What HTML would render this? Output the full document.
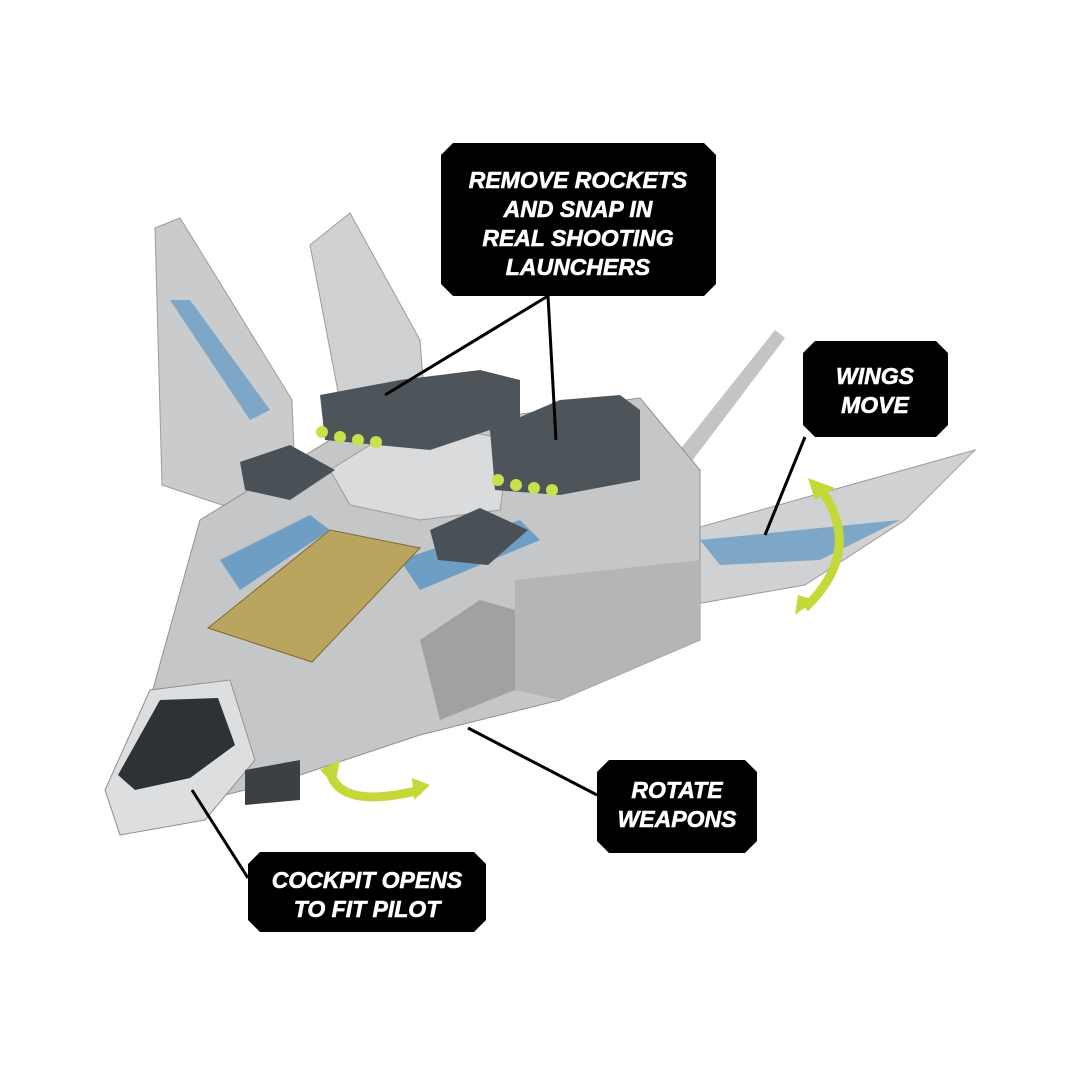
<!DOCTYPE html>
<html><head><meta charset="utf-8"><style>
html,body{margin:0;padding:0;background:#fff;width:1080px;height:1080px;overflow:hidden}
svg{display:block}
text{font-family:"Liberation Sans",sans-serif;font-weight:bold;font-style:italic;fill:#fff;stroke:#fff;stroke-width:0.6;font-size:23px;text-anchor:middle}
</style></head><body>
<svg width="1080" height="1080" viewBox="0 0 1080 1080">
<polygon points="155,228 180,218 292,400 296,505 222,505 162,485" fill="#c9cbcd" stroke="#9a9c9e"/>
<polygon points="170,300 190,300 270,410 250,420" fill="#7ea6c6"/>
<polygon points="310,245 350,213 420,340 424,392 340,402" fill="#cfd1d3" stroke="#9a9c9e"/>
<polygon points="600,555 975,450 905,520 805,585 650,612" fill="#cfd1d3" stroke="#9a9c9e"/>
<polygon points="700,540 900,520 820,560 720,565" fill="#7ea6c6"/>
<polygon points="640,500 775,330 785,338 655,510" fill="#c2c4c6"/>
<polygon points="400,720 460,640 470,648 410,728" fill="#c2c4c6"/>
<rect x="348" y="733" width="25" height="10" fill="#d5d7d9" transform="rotate(-50 360 738)"/>
<polygon points="200,520 330,440 640,398 700,470 700,640 560,700 420,735 285,780 205,800 150,700" fill="#c4c6c8" stroke="#8f9193"/>
<polygon points="220,560 310,515 330,530 240,590" fill="#6f9ec4"/>
<polygon points="400,560 520,520 540,540 420,590" fill="#6f9ec4"/>
<polygon points="515,580 700,560 700,640 560,700 515,690" fill="#b3b5b7"/>
<polygon points="420,640 480,600 515,610 515,690 440,720" fill="#9fa1a3"/>
<polygon points="208,628 330,530 420,548 312,662" fill="#b9a55e" stroke="#7b6b33"/>
<polygon points="330,470 410,420 510,440 500,510 420,520 350,505" fill="#d9dbdd" stroke="#9a9c9e"/>
<polygon points="240,462 290,445 335,470 290,500 245,490" fill="#4a5156"/>
<polygon points="430,530 480,508 528,530 488,565 438,560" fill="#4a5156"/>
<polygon points="320,395 400,380 480,370 520,380 520,420 430,450 325,440" fill="#4d555a"/>
<polygon points="490,430 560,400 620,395 640,410 640,480 560,495 495,490" fill="#4d555a"/>
<g fill="#c8e04a">
<circle cx="322" cy="432" r="6"/><circle cx="340" cy="437" r="6"/><circle cx="358" cy="440" r="6"/><circle cx="376" cy="442" r="6"/>
<circle cx="498" cy="480" r="6"/><circle cx="516" cy="485" r="6"/><circle cx="534" cy="488" r="6"/><circle cx="552" cy="490" r="6"/>
</g>
<polygon points="105,790 150,690 230,680 255,760 205,820 120,835" fill="#dcdedf" stroke="#8f9193"/>
<polygon points="118,775 160,700 218,698 235,745 190,778 135,790" fill="#2d3236"/>
<polygon points="245,770 300,760 300,800 245,805" fill="#3a4044"/>
<path d="M820,488 Q865,550 805,608" fill="none" stroke="#c5d83a" stroke-width="9"/>
<polygon points="808,478 835,488 815,500" fill="#c5d83a"/>
<polygon points="795,615 815,600 798,595" fill="#c5d83a"/>
<path d="M330,772 Q340,810 420,790" fill="none" stroke="#c5d83a" stroke-width="9"/>
<polygon points="320,770 340,760 335,785" fill="#c5d83a"/>
<polygon points="430,785 412,778 414,800" fill="#c5d83a"/>
<g stroke="#000" stroke-width="3" fill="none">
<line x1="548" y1="296" x2="385" y2="395"/>
<line x1="548" y1="296" x2="556" y2="440"/>
<line x1="805" y1="437" x2="765" y2="535"/>
<line x1="597" y1="795" x2="468" y2="728"/>
<line x1="248" y1="878" x2="192" y2="790"/>
</g>
<polygon points="453,143 704,143 716,155 716,284 704,296 453,296 441,284 441,155" fill="#000"/>
<text x="578" y="188">REMOVE ROCKETS</text><text x="578" y="217">AND SNAP IN</text><text x="578" y="246">REAL SHOOTING</text><text x="578" y="275">LAUNCHERS</text>
<polygon points="815,341 936,341 948,353 948,425 936,437 815,437 803,425 803,353" fill="#000"/>
<text x="875" y="384">WINGS</text><text x="875" y="413">MOVE</text>
<polygon points="609,760 745,760 757,772 757,841 745,853 609,853 597,841 597,772" fill="#000"/>
<text x="677" y="798">ROTATE</text><text x="677" y="827">WEAPONS</text>
<polygon points="260,852 474,852 486,864 486,920 474,932 260,932 248,920 248,864" fill="#000"/>
<text x="367" y="888">COCKPIT OPENS</text><text x="367" y="917">TO FIT PILOT</text>
</svg>
</body></html>
